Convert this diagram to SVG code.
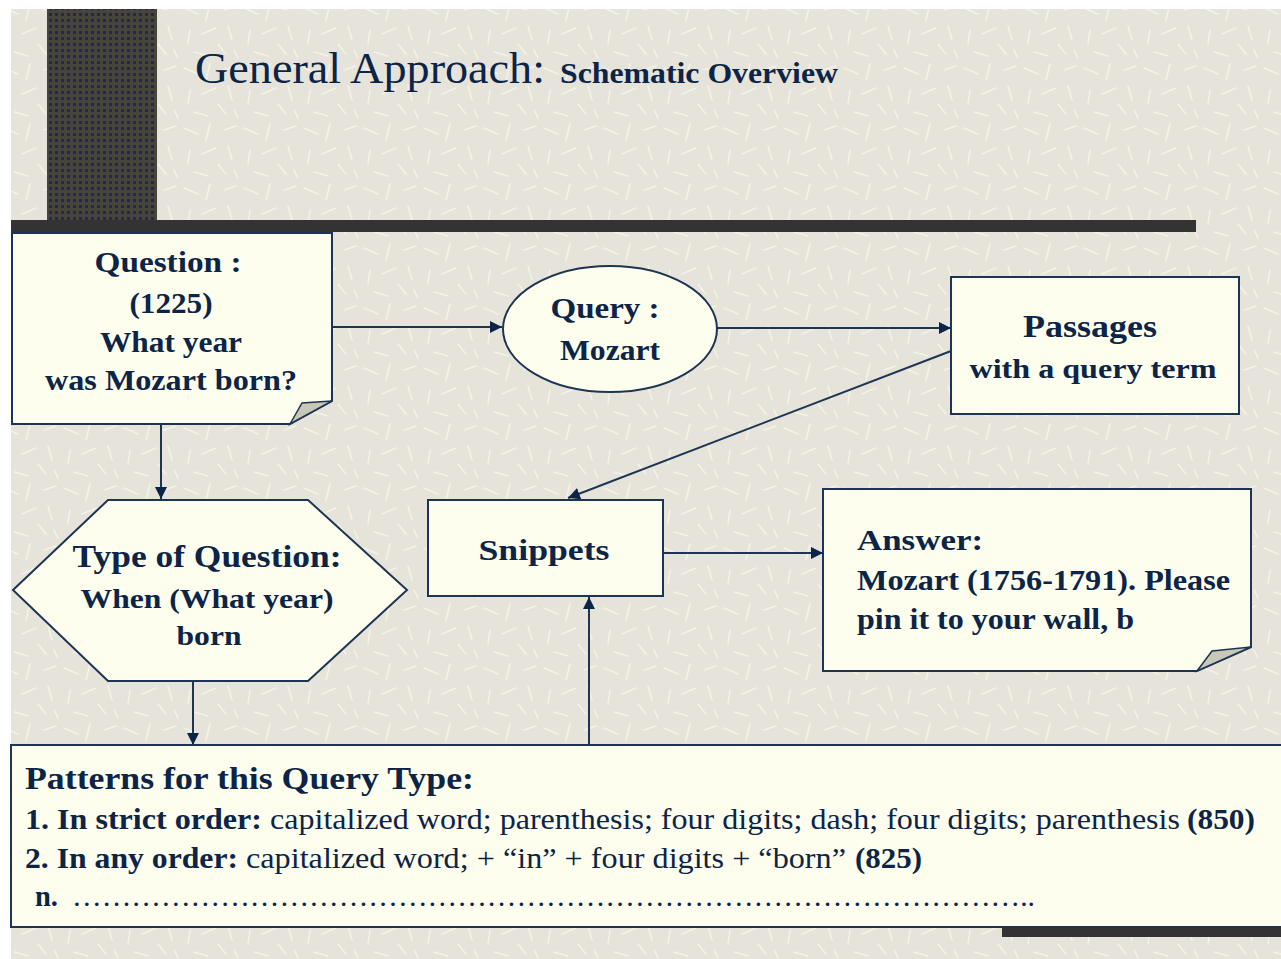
<svg xmlns="http://www.w3.org/2000/svg" width="1281" height="959" viewBox="0 0 1281 959">
<style>
.box{fill:#fefeef;stroke:#1d3553;stroke-width:2}
.flap{fill:#c9c8b6;stroke:#1d3553;stroke-width:1.5}
.t{font-family:"Liberation Serif","Tinos","Nimbus Roman","Nimbus Roman No9 L","Times New Roman",Times,"FreeSerif",serif;fill:#0b2447}
.b{font-weight:bold}
.c{text-anchor:middle}
.con{stroke:#1d3553;stroke-width:2;fill:none;marker-end:url(#ah)}
</style>
<defs>
<marker id="ah" viewBox="0 0 10 10" refX="10" refY="5" markerWidth="6" markerHeight="6" orient="auto" markerUnits="strokeWidth">
<path d="M0,0 L10,5 L0,10 Z" fill="#0b2447"/>
</marker>
<pattern id="tex" width="60" height="60" patternUnits="userSpaceOnUse">
<rect width="60" height="60" fill="#e6e4da"/>
<g stroke="#f4f3e8" stroke-width="1.6" stroke-linecap="round">
<path d="M4,8 L18,14"/><path d="M30,4 L26,20"/><path d="M44,10 L56,6"/>
<path d="M10,30 L8,44"/><path d="M22,34 L36,28"/><path d="M48,26 L52,40"/>
<path d="M14,52 L28,56"/><path d="M38,44 L46,54"/><path d="M54,50 L58,58"/>
</g>
</pattern>
<pattern id="dots" width="6" height="6" patternUnits="userSpaceOnUse">
<rect width="6" height="6" fill="#46443b"/>
<rect x="1" y="1" width="3" height="3" fill="#23294a"/>
</pattern>
</defs>
<rect width="1281" height="959" fill="#ffffff"/>
<rect x="11" y="9" width="1270" height="950" fill="url(#tex)"/>
<rect id="vbar" x="47" y="9" width="110" height="223" fill="url(#dots)"/>
<rect id="hbar" x="11" y="220" width="1185" height="12" fill="#333333"/>
<rect id="bbar" x="1002" y="926" width="279" height="11" fill="#333333"/>

<g id="title">
<text class="t" x="195" y="83" font-size="44" textLength="350" lengthAdjust="spacingAndGlyphs">General Approach:</text>
<text class="t b" x="560" y="83" font-size="30" textLength="278" lengthAdjust="spacingAndGlyphs">Schematic Overview</text>
</g>

<g id="connectors">
<line class="con" x1="332" y1="327" x2="502" y2="327"/>
<line class="con" x1="717" y1="328" x2="951" y2="328"/>
<line class="con" x1="951" y1="351" x2="568" y2="498"/>
<line class="con" x1="161" y1="425" x2="161" y2="499"/>
<line class="con" x1="193" y1="681" x2="193" y2="745"/>
<line class="con" x1="589" y1="745" x2="589" y2="597"/>
<line class="con" x1="663" y1="553" x2="823" y2="553"/>
</g>

<g id="question">
<path class="box" d="M12,233 H332 V401 L290,424 H12 Z"/>
<polygon class="flap" points="290,424 302,403 332,401"/>
<text class="t b c" x="168" y="272" font-size="30" textLength="147" lengthAdjust="spacingAndGlyphs">Question :</text>
<text class="t b c" x="171" y="313" font-size="30" textLength="83" lengthAdjust="spacingAndGlyphs">(1225)</text>
<text class="t b c" x="171" y="352" font-size="30" textLength="142" lengthAdjust="spacingAndGlyphs">What year</text>
<text class="t b c" x="171" y="390" font-size="30" textLength="252" lengthAdjust="spacingAndGlyphs">was Mozart born?</text>
</g>

<g id="query">
<ellipse class="box" cx="610" cy="329" rx="107" ry="63"/>
<text class="t b c" x="605" y="318" font-size="30" textLength="109" lengthAdjust="spacingAndGlyphs">Query :</text>
<text class="t b c" x="610" y="360" font-size="30" textLength="100" lengthAdjust="spacingAndGlyphs">Mozart</text>
</g>

<g id="passages">
<rect class="box" x="951" y="277" width="288" height="137"/>
<text class="t b c" x="1090" y="337" font-size="31" textLength="134" lengthAdjust="spacingAndGlyphs">Passages</text>
<text class="t b c" x="1093" y="378" font-size="27" textLength="247" lengthAdjust="spacingAndGlyphs">with a query term</text>
</g>

<g id="type">
<polygon class="box" points="13,590 108,500 308,500 407,590 308,681 108,681"/>
<text class="t b c" x="207" y="567" font-size="31" textLength="269" lengthAdjust="spacingAndGlyphs">Type of Question:</text>
<text class="t b c" x="207" y="608" font-size="28" textLength="253" lengthAdjust="spacingAndGlyphs">When (What year)</text>
<text class="t b c" x="209" y="645" font-size="28" textLength="65" lengthAdjust="spacingAndGlyphs">born</text>
</g>

<g id="snippets">
<rect class="box" x="428" y="500" width="235" height="96"/>
<text class="t b c" x="544" y="560" font-size="30" textLength="131" lengthAdjust="spacingAndGlyphs">Snippets</text>
</g>

<g id="answer">
<path class="box" d="M823,489 H1251 V647 L1197,671 H823 Z"/>
<polygon class="flap" points="1197,671 1212,651 1251,647"/>
<text class="t b" x="857" y="550" font-size="30" textLength="126" lengthAdjust="spacingAndGlyphs">Answer:</text>
<text class="t b" x="857" y="590" font-size="30" textLength="373" lengthAdjust="spacingAndGlyphs">Mozart (1756-1791). Please</text>
<text class="t b" x="857" y="629" font-size="30" textLength="277" lengthAdjust="spacingAndGlyphs">pin it to your wall, b</text>
</g>

<g id="patterns">
<rect class="box" x="11" y="745" width="1272" height="182"/>
<text class="t b" x="25" y="789" font-size="32" textLength="449" lengthAdjust="spacingAndGlyphs">Patterns for this Query Type:</text>
<text class="t" y="829" font-size="30">
<tspan class="b" x="25" textLength="237" lengthAdjust="spacingAndGlyphs">1. In strict order:</tspan>
<tspan x="270" textLength="910" lengthAdjust="spacingAndGlyphs">capitalized word; parenthesis; four digits; dash; four digits; parenthesis</tspan>
<tspan class="b" x="1187" textLength="68" lengthAdjust="spacingAndGlyphs">(850)</tspan>
</text>
<text class="t" y="868" font-size="30">
<tspan class="b" x="25" textLength="213" lengthAdjust="spacingAndGlyphs">2. In any order:</tspan>
<tspan x="246" textLength="600" lengthAdjust="spacingAndGlyphs">capitalized word; + “in” + four digits + “born”</tspan>
<tspan class="b" x="855" textLength="67" lengthAdjust="spacingAndGlyphs">(825)</tspan>
</text>
<text class="t" y="906" font-size="30">
<tspan class="b" x="35" textLength="23" lengthAdjust="spacingAndGlyphs">n.</tspan>
<tspan x="72" textLength="963" lengthAdjust="spacingAndGlyphs">……………………………………………………………………………………..</tspan>
</text>
</g>
</svg>
